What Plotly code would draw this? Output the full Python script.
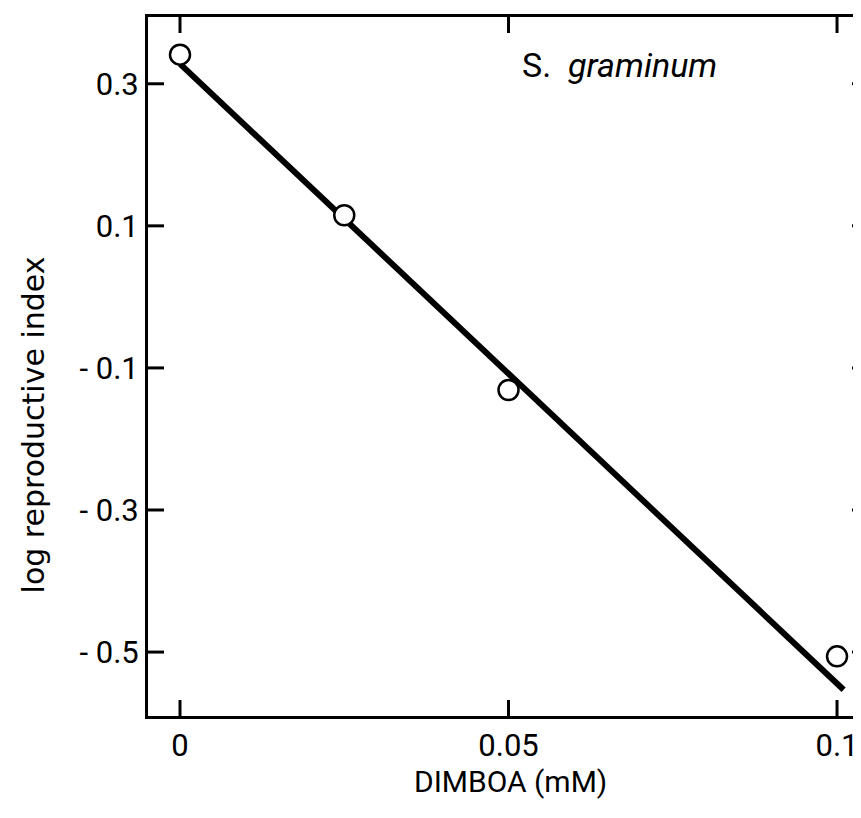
import plotly.graph_objects as go

# Data
dimboa_mM = [0.0, 0.025, 0.05, 0.1]
log_repro = [0.341, 0.115, -0.131, -0.506]

fit_x = [0.0, 0.101]
fit_y = [0.328, -0.553]

x_ticks = [0, 0.05, 0.1]
x_ticktext = ["0", "0.05", "0.1"]
y_ticks = [-0.5, -0.3, -0.1, 0.1, 0.3]
y_ticktext = ["- 0.5", "- 0.3", "- 0.1", "0.1", "0.3"]

FONT = "Roboto"
X_RANGE = [-0.00487, 0.10365]
Y_RANGE = [-0.590, 0.394]

fig = go.Figure()
fig.add_trace(go.Scatter(x=fit_x, y=fit_y, mode="lines",
                         line=dict(color="black", width=6), showlegend=False))
fig.add_trace(go.Scatter(x=dimboa_mM, y=log_repro, mode="markers",
                         marker=dict(size=20, color="white", symbol="circle",
                                     line=dict(color="black", width=2.5)),
                         showlegend=False))

# inward tick marks on all four sides (pixel-sized, anchored at tick values)
TLEN, TLEN_R, TW = 16, 9, 1.5
shapes = []
for t in x_ticks:
    for anchor, sgn in ((Y_RANGE[0], 1), (Y_RANGE[1], -1)):
        shapes.append(dict(type="rect", xref="x", yref="y",
                           xsizemode="pixel", ysizemode="pixel",
                           xanchor=t, yanchor=anchor,
                           x0=-TW, x1=TW, y0=0, y1=sgn * TLEN,
                           fillcolor="black", line=dict(width=0),
                           layer="above"))
for t in y_ticks:
    for anchor, sgn, ln in ((X_RANGE[0], 1, TLEN), (X_RANGE[1], -1, TLEN_R)):
        shapes.append(dict(type="rect", xref="x", yref="y",
                           xsizemode="pixel", ysizemode="pixel",
                           xanchor=anchor, yanchor=t,
                           x0=0, x1=sgn * ln, y0=-TW, y1=TW,
                           fillcolor="black", line=dict(width=0),
                           layer="above"))

# page body has an 8px margin, so the figure is sized 8px smaller
fig.update_layout(
    template="none",
    width=853, height=810,
    margin=dict(l=140, r=0, t=9, b=102),
    paper_bgcolor="white", plot_bgcolor="white",
    font=dict(family=FONT, color="black", size=31),
    xaxis=dict(range=X_RANGE, tickmode="array", tickvals=x_ticks,
               ticktext=x_ticktext, tickfont=dict(size=31), ticks="",
               showline=True, mirror=True, linecolor="black", linewidth=3,
               showgrid=False, zeroline=False),
    yaxis=dict(range=Y_RANGE, tickmode="array", tickvals=y_ticks,
               ticktext=y_ticktext, ticksuffix="   ", ticks="",
               tickfont=dict(size=31),
               showline=True, mirror=False, linecolor="black", linewidth=3,
               showgrid=False, zeroline=False),
    shapes=shapes,
    annotations=[
        dict(text="S.  <i>graminum</i>", xref="paper", yref="paper",
             x=0.522, y=0.931, xanchor="left", yanchor="middle",
             showarrow=False, font=dict(size=34, family=FONT)),
        dict(text="DIMBOA (mM)", xref="paper", yref="paper",
             x=0.508, y=-0.094, xanchor="center", yanchor="middle",
             showarrow=False, font=dict(size=30, family=FONT)),
        dict(text="log reproductive index", xref="paper", yref="paper",
             x=-0.161, y=0.416, xanchor="center", yanchor="middle",
             textangle=-90, showarrow=False,
             font=dict(size=30, family="DejaVu Sans")),
    ],
)

fig.write_html("out.html")
